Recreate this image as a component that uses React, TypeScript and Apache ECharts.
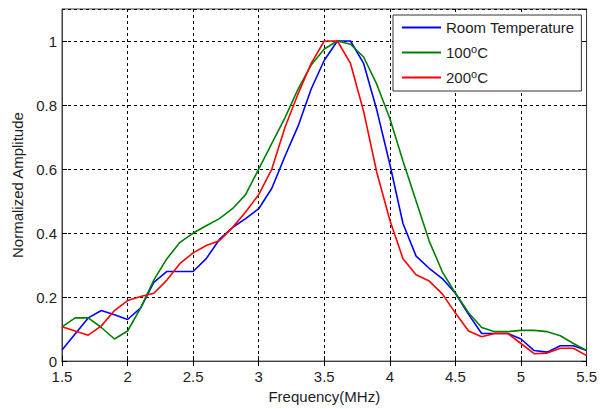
import React, { useEffect, useRef } from 'react';
import * as echarts from 'echarts';

const freq = [
  1.5, 1.6, 1.7, 1.8, 1.9, 2.0, 2.1, 2.2, 2.3, 2.4, 2.5, 2.6, 2.7, 2.8, 2.9, 3.0,
  3.1, 3.2, 3.3, 3.4, 3.5, 3.6, 3.7, 3.8, 3.9, 4.0, 4.1, 4.2, 4.3, 4.4, 4.5,
  4.6, 4.7, 4.8, 4.9, 5.0, 5.1, 5.2, 5.3, 5.4, 5.5,
];

const roomTemp = [
  0.035, 0.085, 0.135, 0.158, 0.145, 0.13, 0.166, 0.246, 0.28, 0.28, 0.28, 0.32,
  0.38, 0.417, 0.445, 0.476, 0.54, 0.64, 0.734, 0.85, 0.94, 1.0, 1.0, 0.93, 0.785,
  0.615, 0.43, 0.328, 0.29, 0.258, 0.212, 0.146, 0.086, 0.086, 0.086, 0.069,
  0.033, 0.028, 0.048, 0.048, 0.033,
];

const temp100 = [
  0.107, 0.135, 0.135, 0.105, 0.069, 0.094, 0.166, 0.253, 0.32, 0.371, 0.4, 0.423,
  0.445, 0.476, 0.52, 0.6, 0.68, 0.76, 0.85, 0.925, 0.975, 1.0, 0.99, 0.95, 0.865,
  0.758, 0.625, 0.5, 0.375, 0.279, 0.212, 0.151, 0.105, 0.092, 0.092, 0.096,
  0.096, 0.092, 0.079, 0.055, 0.033,
];

const temp200 = [
  0.107, 0.094, 0.081, 0.11, 0.158, 0.189, 0.202, 0.212, 0.253, 0.305, 0.338,
  0.361, 0.376, 0.417, 0.466, 0.52, 0.6, 0.73, 0.835, 0.93, 1.0, 1.0, 0.93, 0.78,
  0.59, 0.44, 0.32, 0.27, 0.25, 0.21, 0.15, 0.094, 0.076, 0.086, 0.086, 0.055,
  0.023, 0.025, 0.04, 0.04, 0.017,
];

const seriesNames = ['Room Temperature', '100°C', '200°C'];
const seriesColors = ['#0000ff', '#008000', '#ff0000'];
const xTickInterval = 0.5;
const yTickInterval = 0.2;

const FONT = "'Liberation Sans', Arial, sans-serif";
const TEXT = '#1e1e1e';

export default function App() {
  const ref = useRef<HTMLDivElement>(null);

  useEffect(() => {
    if (!ref.current) return;
    const chart = echarts.init(ref.current, undefined, { renderer: 'svg' });
    const allData = [roomTemp, temp100, temp200];

    const tickCommon = {
      show: true,
      inside: true,
      length: 5,
      lineStyle: { color: '#000', width: 1 },
    };
    const axisLineCommon = { show: true, lineStyle: { color: '#404040', width: 1 } };
    const splitCommon = {
      show: true,
      lineStyle: { color: '#000', width: 1, type: [3, 3] as number[] },
    };

    chart.setOption({
      animation: false,
      textStyle: { fontFamily: FONT },
      grid: {
        left: 62,
        width: 528,
        top: 9,
        height: 358,
        show: true,
        borderColor: '#404040',
        borderWidth: 1,
        backgroundColor: '#fff',
      },
      legend: {
        orient: 'vertical',
        left: 393,
        top: 15,
        padding: [3, 7, 4, 8],
        itemWidth: 39,
        itemHeight: 14,
        itemGap: 6,
        borderColor: '#333',
        borderWidth: 1,
        backgroundColor: '#fff',
        data: seriesNames,
        itemStyle: { opacity: 0 },
        lineStyle: { width: 2 },
        formatter: (name: string) => name.replace('°', '{sup|o}'),
        textStyle: {
          fontSize: 15,
          lineHeight: 19,
          color: TEXT,
          fontFamily: FONT,
          rich: {
            sup: {
              fontSize: 11,
              lineHeight: 11,
              color: TEXT,
              fontFamily: FONT,
              padding: [0, 0, 8, 0],
            },
          },
        },
      },
      xAxis: [
        {
          type: 'value',
          min: 1.5,
          max: 5.5,
          interval: xTickInterval,
          name: 'Frequency(MHz)',
          nameLocation: 'middle',
          nameGap: 24,
          nameTextStyle: { fontSize: 15, color: TEXT, fontFamily: FONT },
          axisLine: axisLineCommon,
          axisTick: tickCommon,
          axisLabel: { fontSize: 15, color: TEXT, margin: 8, fontFamily: FONT },
          splitLine: splitCommon,
        },
        {
          type: 'value',
          position: 'top',
          min: 1.5,
          max: 5.5,
          interval: xTickInterval,
          axisLine: axisLineCommon,
          axisTick: tickCommon,
          axisLabel: { show: false },
          splitLine: { show: false },
        },
      ],
      yAxis: [
        {
          type: 'value',
          min: 0,
          max: 1.1,
          interval: yTickInterval,
          name: 'Normalized Amplitude',
          nameLocation: 'middle',
          nameGap: 33,
          nameTextStyle: { fontSize: 15, color: TEXT, fontFamily: FONT },
          axisLine: axisLineCommon,
          axisTick: tickCommon,
          axisLabel: {
            fontSize: 15,
            color: TEXT,
            margin: 5,
            showMaxLabel: false,
            fontFamily: FONT,
          },
          splitLine: splitCommon,
        },
        {
          type: 'value',
          position: 'right',
          min: 0,
          max: 1.1,
          interval: yTickInterval,
          axisLine: axisLineCommon,
          axisTick: tickCommon,
          axisLabel: { show: false },
          splitLine: { show: false },
        },
      ],
      series: seriesNames.map((name, i) => ({
        name,
        type: 'line',
        xAxisIndex: 0,
        yAxisIndex: 0,
        symbol: 'none',
        smooth: false,
        color: seriesColors[i],
        lineStyle: { color: seriesColors[i], width: 1.6 },
        data: freq.map((f, j) => [f, allData[i][j]]),
      })),
    });

    return () => {
      chart.dispose();
    };
  }, []);

  return (
    <div
      ref={ref}
      style={{ position: 'absolute', left: 0, top: 0, width: 600, height: 409, background: '#fff' }}
    />
  );
}
